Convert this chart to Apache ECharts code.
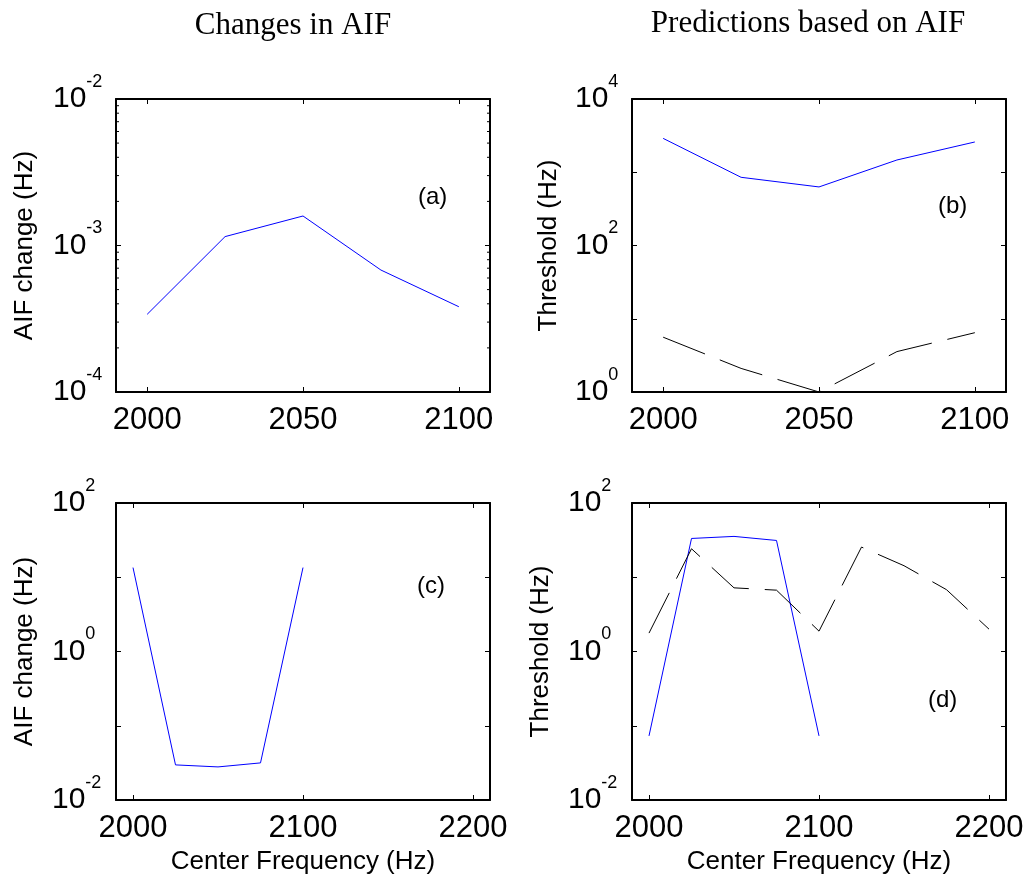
<!DOCTYPE html>
<html>
<head>
<meta charset="utf-8">
<script src="https://cdn.jsdelivr.net/npm/echarts@6/dist/echarts.min.js"></script>
<style>html,body{margin:0;padding:0;background:#fff;}#chart{width:1031px;height:880px;}</style>
</head>
<body>
<div id="chart"></div>
<script>
// ---- data ----
const columnTitles = ['Changes in AIF', 'Predictions based on AIF'];
const panelLetters = ['(a)', '(b)', '(c)', '(d)'];
const yNames = ['AIF change (Hz)', 'Threshold (Hz)', 'AIF change (Hz)', 'Threshold (Hz)'];
const xName = 'Center Frequency (Hz)';

const xTicksTop = [2000, 2050, 2100];
const xTicksBottom = [2000, 2100, 2200];

// (a)
const freqA = [2000, 2025, 2050, 2075, 2100];
const aifChangeA = [3.39e-4, 1.15e-3, 1.59e-3, 6.8e-4, 3.82e-4];
// (b)
const freqB = [2000, 2025, 2050, 2075, 2100];
const thresholdBSolid = [2900, 853, 630, 1470, 2590];
const thresholdBDashed = [5.6, 2.1, 1.0, 3.56, 6.45];
// (c)
const freqC = [2000, 2025, 2050, 2075, 2100];
const aifChangeC = [13.5, 0.0297, 0.0279, 0.0316, 13.5];
// (d)
const freqDSolid = [2000, 2025, 2050, 2075, 2100];
const thresholdDSolid = [0.073, 33.3, 35.5, 31.3, 0.073];
const freqDDashed = [2000, 2025, 2050, 2075, 2100, 2125, 2150, 2175, 2200];
const thresholdDDashed = [1.77, 24.2, 7.2, 6.7, 1.88, 25.5, 14.3, 6.8, 2.0];

// ---- layout ----
const FONT = 'Liberation Sans';
const grids = [
  {left: 116, top: 99, width: 374, height: 293},
  {left: 632, top: 99, width: 374, height: 293},
  {left: 116, top: 503, width: 374, height: 297},
  {left: 632, top: 503, width: 374, height: 297}
];
const xRanges = [[1990, 2110], [1990, 2110], [1990, 2210], [1990, 2210]];
const yRanges = [[1e-4, 1e-2], [1, 1e4], [1e-2, 1e2], [1e-2, 1e2]];
const yLabelMargins = [63, 57, 64, 64];
const yNameGaps = [78, 70, 78, 78];
const labelEveryDecade = [true, false, false, false];

const zip = (xs, ys) => xs.map((x, i) => [x, ys[i]]);

const frameLine = {show: true, lineStyle: {color: '#000', width: 2}};
const xAxes = [], yAxes = [];
grids.forEach((g, i) => {
  const ticks = i < 2 ? xTicksTop : xTicksBottom;
  xAxes.push({
    type: 'value', gridIndex: i, position: 'bottom',
    min: xRanges[i][0], max: xRanges[i][1],
    axisLine: frameLine, splitLine: {show: false},
    axisTick: {show: true, inside: true, length: 5, customValues: ticks, lineStyle: {color: '#000', width: 1}},
    axisLabel: {show: true, customValues: ticks, margin: 13, color: '#000', fontFamily: FONT, fontSize: 31,
      formatter: v => String(v)},
    name: i >= 2 ? xName : '', nameLocation: 'middle', nameGap: 49,
    nameTextStyle: {color: '#000', fontFamily: FONT, fontSize: 26}
  });
  xAxes.push({
    type: 'value', gridIndex: i, position: 'top',
    min: xRanges[i][0], max: xRanges[i][1],
    axisLine: frameLine, splitLine: {show: false},
    axisTick: {show: true, inside: true, length: 5, customValues: ticks, lineStyle: {color: '#000', width: 1}},
    axisLabel: {show: false}
  });
  const every = labelEveryDecade[i];
  yAxes.push({
    type: 'log', logBase: 10, gridIndex: i, position: 'left',
    min: yRanges[i][0], max: yRanges[i][1],
    axisLine: frameLine, splitLine: {show: false}, minorTick: {show: false},
    axisTick: {show: true, inside: true, length: 5, lineStyle: {color: '#000', width: 1}},
    axisLabel: {
      show: true, margin: yLabelMargins[i], align: 'left',
      formatter: function (v) {
        const e = Math.round(Math.log10(v));
        if (!every && e % 2 !== 0) return '';
        return '{b|10}{s|' + e + '}';
      },
      rich: {
        b: {fontSize: 30, fontFamily: FONT, color: '#000', lineHeight: 52, verticalAlign: 'middle'},
        s: {fontSize: 18, fontFamily: FONT, color: '#000', lineHeight: 18, verticalAlign: 'top'}
      }
    },
    name: yNames[i], nameLocation: 'middle', nameGap: yNameGaps[i],
    nameTextStyle: {color: '#000', fontFamily: FONT, fontSize: 26}
  });
  yAxes.push({
    type: 'log', logBase: 10, gridIndex: i, position: 'right',
    min: yRanges[i][0], max: yRanges[i][1],
    axisLine: frameLine, splitLine: {show: false},
    axisTick: {show: true, inside: true, length: 5, lineStyle: {color: '#000', width: 1}},
    axisLabel: {show: false}
  });
});

// minor ticks (2..9 of each decade) for panel (a), derived from its axis range
const minorA = [];
for (let e = Math.log10(yRanges[0][0]); e < Math.log10(yRanges[0][1]); e++) {
  for (let m = 2; m <= 9; m++) {
    const v = m * Math.pow(10, e);
    minorA.push([xRanges[0][0], v, 1]);
    minorA.push([xRanges[0][1], v, -1]);
  }
}

const blue = {color: '#0000ff', width: 1};
const dashed = {color: '#000', width: 1, type: [45, 16]};
const lineSeries = (gi, data, style) => ({
  type: 'line', xAxisIndex: 2 * gi, yAxisIndex: 2 * gi, data: data,
  showSymbol: false, symbol: 'none', lineStyle: style, itemStyle: {color: style.color},
  silent: true, animation: false
});

const series = [
  lineSeries(0, zip(freqA, aifChangeA), blue),
  lineSeries(1, zip(freqB, thresholdBSolid), blue),
  lineSeries(1, zip(freqB, thresholdBDashed), dashed),
  lineSeries(2, zip(freqC, aifChangeC), blue),
  lineSeries(3, zip(freqDSolid, thresholdDSolid), blue),
  lineSeries(3, zip(freqDDashed, thresholdDDashed), dashed),
  {
    type: 'custom', xAxisIndex: 0, yAxisIndex: 0, data: minorA, silent: true, clip: false,
    encode: {x: 0, y: 1},
    renderItem: function (params, api) {
      const p = api.coord([api.value(0), api.value(1)]);
      const d = api.value(2);
      return {type: 'line', shape: {x1: p[0], y1: p[1], x2: p[0] + d * 3, y2: p[1]},
        style: {stroke: '#000', lineWidth: 1}};
    }
  }
];

const letterPos = [[418, 197], [938, 206], [417, 586], [928, 700]];
const graphic = panelLetters.map((t, i) => ({
  type: 'text', x: letterPos[i][0], y: letterPos[i][1],
  style: {text: t, font: '24px "Liberation Sans"', fill: '#000', textAlign: 'left', textVerticalAlign: 'middle'}
}));

const titles = [
  {text: columnTitles[0], left: 293, top: 10, textAlign: 'center'},
  {text: columnTitles[1], left: 808, top: 8, textAlign: 'center'}
].map(t => Object.assign(t, {padding: 0, textStyle: {fontFamily: 'Liberation Serif', fontSize: 31, fontWeight: 'normal', color: '#000'}}));

const chart = echarts.init(document.getElementById('chart'));
chart.setOption({
  animation: false,
  backgroundColor: '#fff',
  title: titles,
  grid: grids,
  xAxis: xAxes,
  yAxis: yAxes,
  series: series,
  graphic: graphic
});
</script>
</body>
</html>
